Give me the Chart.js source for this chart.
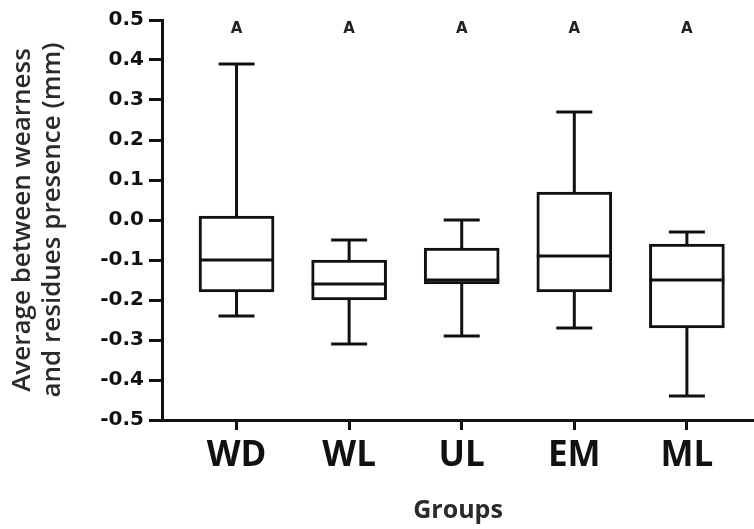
<!DOCTYPE html>
<html>
<head>
<meta charset="utf-8">
<script src="https://cdn.jsdelivr.net/npm/chart.js@4"></script>
<style>
  body { margin: 0; background: #fff; }
  #wrap { width: 754px; height: 529px; }
</style>
</head>
<body>
<div id="wrap"><canvas id="boxChart" width="754" height="529"></canvas></div>
<script>
var groups = ["WD", "WL", "UL", "EM", "ML"];
var whiskerMax = [0.39, -0.05, 0.00, 0.27, -0.03];
var q3 = [0.01, -0.10, -0.07, 0.07, -0.06];
var median = [-0.10, -0.16, -0.15, -0.09, -0.15];
var q1 = [-0.18, -0.20, -0.16, -0.18, -0.27];
var whiskerMin = [-0.24, -0.31, -0.29, -0.27, -0.44];
var sigLetters = ["A", "A", "A", "A", "A"];
var yTicks = [-0.5, -0.4, -0.3, -0.2, -0.1, 0.0, 0.1, 0.2, 0.3, 0.4, 0.5];

var INK = "#111";
var LINEW = 3;
var CAPW = 36;  // px

// whiskers, medians and the letters above each group
const boxExtras = {
    id: 'boxExtras',
    afterDatasetsDraw(chart) {
        const ctx = chart.ctx;
        const xs = chart.scales.x;
        const ys = chart.scales.y;
        ctx.save();
        ctx.strokeStyle = INK;
        ctx.lineWidth = LINEW;
        ctx.lineCap = 'butt';
        for (let i = 0; i < groups.length; i++) {
            var cx = xs.getPixelForValue(i + 1);
            var yMax = ys.getPixelForValue(whiskerMax[i]);
            var yMin = ys.getPixelForValue(whiskerMin[i]);
            var yQ3 = ys.getPixelForValue(q3[i]);
            var yQ1 = ys.getPixelForValue(q1[i]);
            var yMed = ys.getPixelForValue(median[i]);
            var bar = chart.getDatasetMeta(0).data[i];
            var half = bar.width / 2;

            ctx.beginPath();
            ctx.moveTo(cx, yQ3); ctx.lineTo(cx, yMax);
            ctx.moveTo(cx - CAPW / 2, yMax); ctx.lineTo(cx + CAPW / 2, yMax);
            ctx.moveTo(cx, yQ1); ctx.lineTo(cx, yMin);
            ctx.moveTo(cx - CAPW / 2, yMin); ctx.lineTo(cx + CAPW / 2, yMin);
            ctx.moveTo(cx - half, yMed); ctx.lineTo(cx + half, yMed);
            ctx.stroke();
        }
        ctx.fillStyle = "#222";
        ctx.font = "bold 15px 'DejaVu Sans'";
        ctx.textAlign = 'center';
        ctx.textBaseline = 'middle';
        for (let i = 0; i < groups.length; i++) {
            ctx.fillText(sigLetters[i], xs.getPixelForValue(i + 1), chart.chartArea.top + 9);
        }
        ctx.restore();
    }
};

const data = {
    datasets: [
        {
            label: 'box',
            data: groups.map(function (g, i) { return { x: i + 1, y: [q1[i], q3[i]] }; }),
            backgroundColor: '#fff',
            borderColor: INK,
            borderWidth: LINEW,
            borderSkipped: false,
            barThickness: 75
        }
    ]
};

const config = {
    type: 'bar',
    data: data,
    plugins: [boxExtras],
    options: {
        responsive: false,
        animation: false,
        layout: { padding: { top: 20, right: 0, bottom: 0, left: 0 } },
        plugins: {
            legend: { display: false },
            tooltip: { enabled: false }
        },
        scales: {
            x: {
                type: 'linear',
                offset: false,
                min: 0.338,
                max: 5.596,
                afterBuildTicks: function (scale) {
                    scale.ticks = groups.map(function (g, i) { return { value: i + 1 }; });
                },
                afterFit: function (scale) { scale.height = 109; },
                ticks: {
                    callback: function (v) { return groups[v - 1]; },
                    color: INK,
                    font: { family: "'Open Sans'", size: 35, weight: 'bold' },
                    padding: 5,
                    maxRotation: 0,
                    autoSkip: false
                },
                grid: {
                    display: true, offset: false, drawOnChartArea: false, drawTicks: true,
                    tickLength: 10, tickWidth: LINEW, tickColor: INK
                },
                border: { display: true, color: INK, width: LINEW },
                title: {
                    display: true,
                    text: 'Groups',
                    color: '#2a2a2a',
                    font: { family: "'Open Sans'", size: 25, weight: 'bold' },
                    padding: { top: 0, bottom: 3 }
                }
            },
            y: {
                min: -0.5,
                max: 0.5,
                afterBuildTicks: function (scale) {
                    scale.ticks = yTicks.map(function (v) { return { value: v }; });
                },
                afterFit: function (scale) { scale.width = 162; },
                ticks: {
                    callback: function (v) { return v.toFixed(1); },
                    color: INK,
                    font: { family: "'DejaVu Sans'", size: 20, weight: 'bold' },
                    padding: 5
                },
                grid: {
                    display: true, drawOnChartArea: false, drawTicks: true,
                    tickLength: 13, tickWidth: LINEW, tickColor: INK
                },
                border: { display: true, color: INK, width: LINEW },
                title: {
                    display: true,
                    text: ['Average between wearness', 'and residues presence (mm)'],
                    color: '#2a2a2a',
                    font: { family: "'Open Sans'", size: 26, weight: '600', lineHeight: 1.17 },
                    padding: { top: 7, bottom: 0 }
                }
            }
        }
    }
};

window.addEventListener('DOMContentLoaded', function () {
    var ctx = document.getElementById("boxChart");
    new Chart(ctx, config);
});
</script>
</body>
</html>
